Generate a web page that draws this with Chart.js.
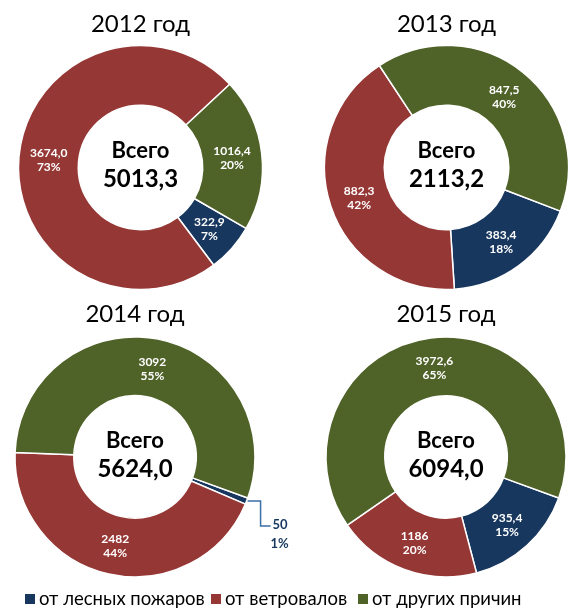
<!DOCTYPE html>
<html>
<head>
<meta charset="utf-8">
<script src="https://cdn.jsdelivr.net/npm/chart.js@4/dist/chart.umd.min.js"></script>
<style>
  body { margin: 0; background: #fff; }
  #wrap { position: relative; width: 571px; height: 609px; overflow: hidden; font-family: Lato, sans-serif; }
  canvas { position: absolute; }
  .item { position: absolute; top: 586px; font-size: 18.5px; line-height: 24px; color: #000; white-space: nowrap; }
  .box { position: absolute; left: 0; top: 8px; width: 10px; height: 10px; }
  .item span.txt { margin-left: 14px; }
</style>
</head>
<body>
<div id="wrap">
  <canvas id="c0" width="281" height="296" style="left:0;top:0"></canvas>
  <canvas id="c1" width="249" height="296" style="left:322px;top:0"></canvas>
  <canvas id="c2" width="300" height="295" style="left:0;top:290px"></canvas>
  <canvas id="c3" width="250" height="295" style="left:321px;top:290px"></canvas>
</div>
<script>
// данные
const years = ['2012 год', '2013 год', '2014 год', '2015 год'];
const categories = ['от лесных пожаров', 'от ветровалов', 'от других причин'];
const fires = [322.9, 383.4, 50, 935.4];
const windfalls = [3674.0, 882.3, 2482, 1186];
const other = [1016.4, 847.5, 3092, 3972.6];
const fireText = ['322,9', '383,4', '50', '935,4'];
const windText = ['3674,0', '882,3', '2482', '1186'];
const otherText = ['1016,4', '847,5', '3092', '3972,6'];
const firePct = ['7%', '18%', '1%', '15%'];
const windPct = ['73%', '42%', '44%', '20%'];
const otherPct = ['20%', '40%', '55%', '65%'];
const totals = ['5013,3', '2113,2', '5624,0', '6094,0'];
const rotations = [120, 111, 110, 110];
const radii = [122, 122, 120, 120];
const padRight = [0, 0, 30, 0];
const legendLeft = [25, 211, 358];

const colors = ['#17375E', '#953735', '#4F6228'];
const FONT = 'Lato, sans-serif';

// подписи сегментов + "Всего" в центре
const labelPlugin = {
  id: 'sliceLabels',
  afterDatasetsDraw(chart, args, opts) {
    const ctx = chart.ctx;
    const meta = chart.getDatasetMeta(0);
    const i = opts.idx;
    const texts = [[fireText[i], firePct[i]], [windText[i], windPct[i]], [otherText[i], otherPct[i]]];
    ctx.save();
    meta.data.forEach((arc, k) => {
      const pct = parseFloat(texts[k][1]);
      if (pct < 3) {
        // маленький сегмент - подпись снаружи с выноской
        const mid = (arc.startAngle + arc.endAngle) / 2;
        const px = arc.x + Math.cos(mid) * arc.outerRadius;
        const py = arc.y + Math.sin(mid) * arc.outerRadius;
        ctx.strokeStyle = '#3A6FA8';
        ctx.lineWidth = 1.5;
        ctx.beginPath();
        ctx.moveTo(px + 1, py);
        ctx.lineTo(px + 14, py);
        ctx.lineTo(px + 14, py + 25);
        ctx.lineTo(px + 24, py + 25);
        ctx.stroke();
        ctx.fillStyle = colors[k];
        ctx.font = 'bold 13px ' + FONT;
        ctx.textAlign = 'left';
        ctx.textBaseline = 'middle';
        ctx.fillText(texts[k][0], px + 26, py + 24);
        ctx.fillText(texts[k][1], px + 24, py + 43);
        return;
      }
      const p = arc.tooltipPosition();
      ctx.fillStyle = '#fff';
      ctx.font = 'bold 12px ' + FONT;
      ctx.textAlign = 'center';
      ctx.textBaseline = 'middle';
      ctx.fillText(texts[k][0], p.x, p.y - 6);
      ctx.fillText(texts[k][1], p.x, p.y + 8);
    });
    const cx = meta.data[0].x, cy = meta.data[0].y;
    ctx.fillStyle = '#000';
    ctx.textAlign = 'center';
    ctx.textBaseline = 'middle';
    ctx.font = 'bold 22px ' + FONT;
    ctx.fillText('Всего', cx, cy - 16);
    ctx.font = 'bold 24px ' + FONT;
    ctx.fillText(totals[i], cx, cy + 12);
    ctx.restore();
  }
};

years.forEach((year, i) => {
  new Chart(document.getElementById('c' + i), {
    type: 'doughnut',
    data: {
      labels: categories,
      datasets: [{
        data: [fires[i], windfalls[i], other[i]],
        backgroundColor: colors,
        borderColor: '#fff',
        borderWidth: 1.5,
        hoverOffset: 0
      }]
    },
    options: {
      responsive: false,
      animation: false,
      rotation: rotations[i],
      radius: radii[i],
      cutout: '51%',
      events: [],
      layout: { padding: { right: padRight[i] } },
      plugins: {
        legend: { display: false },
        tooltip: { enabled: false },
        title: {
          display: true,
          text: year,
          color: '#000',
          font: { family: FONT, size: 24, weight: 'normal' },
          padding: { top: 10, bottom: 0 }
        },
        sliceLabels: { idx: i }
      }
    },
    plugins: [labelPlugin]
  });
});

// легенда
const wrap = document.getElementById('wrap');
categories.forEach((c, k) => {
  const item = document.createElement('div');
  item.className = 'item';
  item.style.left = legendLeft[k] + 'px';
  const box = document.createElement('span');
  box.className = 'box';
  box.style.background = colors[k];
  const txt = document.createElement('span');
  txt.className = 'txt';
  txt.textContent = c;
  item.appendChild(box);
  item.appendChild(txt);
  wrap.appendChild(item);
});
</script>
</body>
</html>
